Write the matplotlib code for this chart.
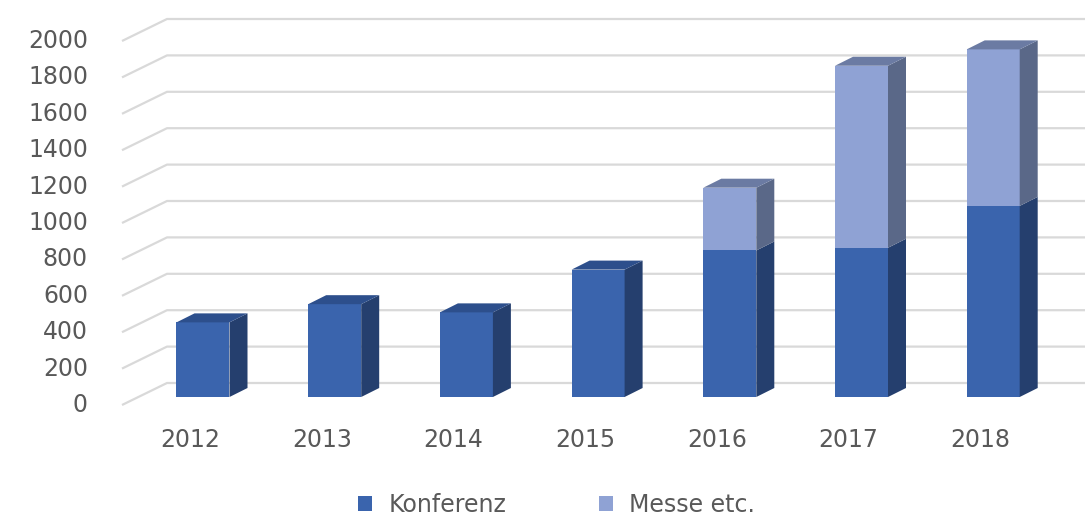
import matplotlib
matplotlib.use('Agg')
import matplotlib.pyplot as plt
from matplotlib.patches import Polygon, Patch

years = ['2012', '2013', '2014', '2015', '2016', '2017', '2018']
konferenz = [410, 510, 465, 700, 805, 820, 1050]
messe = [0, 0, 0, 0, 345, 1000, 860]
yticks = [0, 200, 400, 600, 800, 1000, 1200, 1400, 1600, 1800, 2000]

# colours: front, side, top
col_k = ('#3a64ad', '#253f6e', '#2d4f8c')
col_m = ('#8fa2d4', '#5a6888', '#6b7ba3')
grid_col = '#d9d9d9'
text_col = '#595959'

# pixel -> data helpers (x: 131.7 px per category, y: 0.182 px per unit)
PX = 1 / 131.7
PY = 1 / 0.182

bar_w = 53 * PX
depth = (18 * PX, 9 * PY)          # bar depth
front = (-16 * PX, -8 * PY)        # front plane of floor/grid
back = (29 * PX, 14 * PY)          # back wall

fig = plt.figure(figsize=(10.85, 5.15), dpi=100)
ax = fig.add_axes([0, 0, 1, 1])
ax.set_xlim(-203 * PX, (1085 - 203) * PX)
ax.set_ylim(-118 * PY, 397 * PY)
ax.axis('off')

# gridlines: oblique part on the left side wall, then flat on the back wall
x_left = (122 - 203) * PX - front[0]
for v in yticks:
    x0, y0 = x_left + front[0], v + front[1]
    x1, y1 = x_left + back[0], v + back[1]
    ax.plot([x0, x1, 10], [y0, y1, y1], color=grid_col, lw=1.6, zorder=1,
            solid_capstyle='butt')
    ax.text(x0 - 34 * PX, y0, str(v), ha='right', va='center',
            fontsize=17, color=text_col)

def box(ax, xc, bottom, top, cols, draw_top):
    xl, xr = xc - bar_w / 2, xc + bar_w / 2
    dx, dy = depth
    ax.add_patch(Polygon([(xl, bottom), (xr, bottom), (xr, top), (xl, top)],
                         closed=True, fc=cols[0], lw=0, zorder=3))
    ax.add_patch(Polygon([(xr, bottom), (xr + dx, bottom + dy), (xr + dx, top + dy), (xr, top)],
                         closed=True, fc=cols[1], lw=0, zorder=3))
    if draw_top:
        ax.add_patch(Polygon([(xl, top), (xr, top), (xr + dx, top + dy), (xl + dx, top + dy)],
                             closed=True, fc=cols[2], lw=0, zorder=3))

for i, yr in enumerate(years):
    k, m = konferenz[i], messe[i]
    box(ax, i, 0, k, col_k, m == 0)
    if m > 0:
        box(ax, i, k, k + m, col_m, True)
    ax.text(i - 13 * PX, -43 * PY, yr, ha='center', va='center',
            fontsize=17, color=text_col)

handles = [Patch(fc=col_k[0], lw=0), Patch(fc=col_m[0], lw=0)]
fig.legend(handles, ['Konferenz', 'Messe etc.'], loc='center',
           bbox_to_anchor=(0.513, 0.02), ncol=2, frameon=False,
           fontsize=17, labelcolor=text_col, handlelength=0.6,
           handleheight=0.6, handletextpad=0.7, columnspacing=3.9)

fig.savefig('out.png', dpi=100)
